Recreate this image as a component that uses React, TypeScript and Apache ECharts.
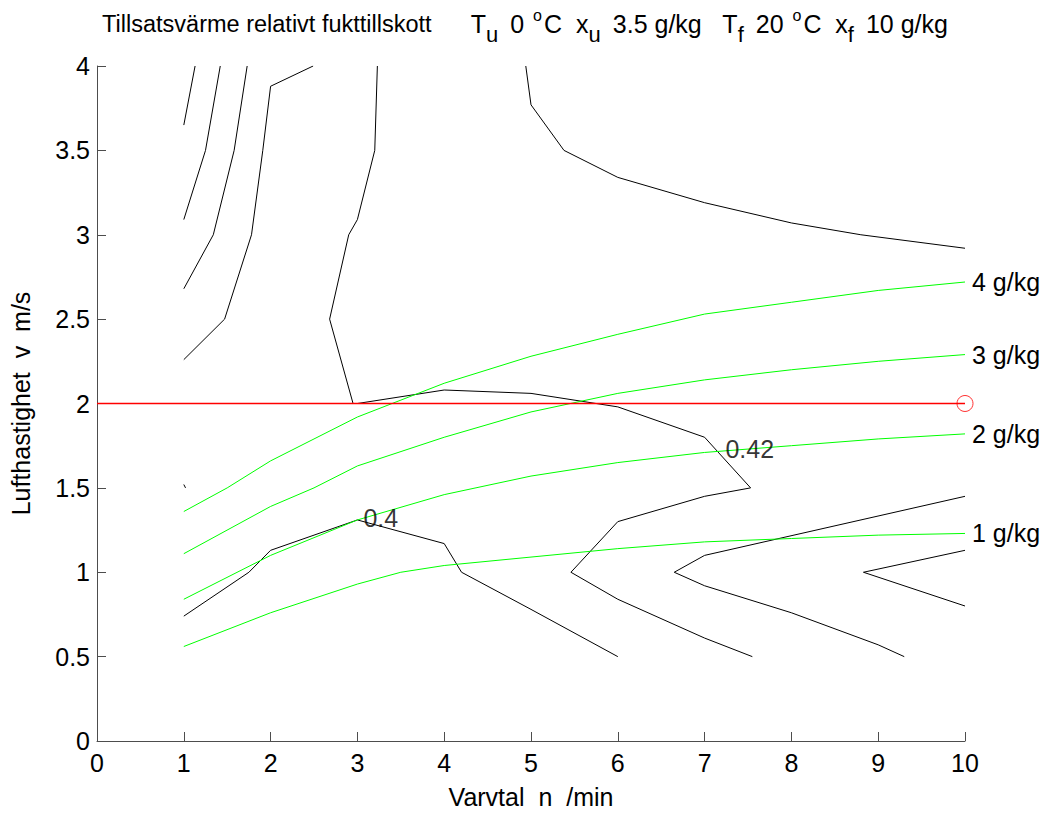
import React, { useEffect, useRef } from "react";
import * as echarts from "echarts";

// ---- data ----
const xTicks = [0, 1, 2, 3, 4, 5, 6, 7, 8, 9, 10];
const yTicks = [0, 0.5, 1, 1.5, 2, 2.5, 3, 3.5, 4];

// black contour lines (n, v)
const contourA = [[1, 3.65], [1.13, 4]];
const contourB = [[1, 3.09], [1.25, 3.5], [1.42, 4]];
const contourC = [[1, 2.68], [1.34, 3.0], [1.58, 3.5], [1.73, 4]];
const contourD = [[1, 2.26], [1.47, 2.5], [1.78, 3.0], [1.91, 3.5], [2, 3.88], [2.49, 4]];
const contourE = [
  [3.23, 4], [3.2, 3.5], [3, 3.09], [2.9, 3.0], [2.68, 2.5], [2.95, 2.0], [3, 2.0],
  [4, 2.08], [5, 2.06], [6, 1.98], [7, 1.8], [7.53, 1.5], [7, 1.45], [6, 1.3],
  [5.46, 1.0], [6, 0.84], [7, 0.61], [7.55, 0.5],
];
const contourF = [[10, 1.45], [7, 1.1], [6.65, 1.0], [7, 0.92], [8, 0.76], [9, 0.57], [9.3, 0.5]];
const contourG = [[10, 1.13], [8.83, 1.0], [10, 0.8]];
const contourH = [[1, 0.74], [1.75, 1.0], [2, 1.13], [3, 1.31], [4, 1.17], [4.2, 1.0], [5, 0.78], [6, 0.5]];
const contourI = [[4.94, 4], [5, 3.77], [5.38, 3.5], [6, 3.34], [7, 3.19], [8, 3.07], [8.8, 3.0], [10, 2.92]];
const contourDot = [[1, 1.52], [1.02, 1.5]];
const contours = [contourA, contourB, contourC, contourD, contourE, contourF, contourG, contourH, contourI, contourDot];

// contour labels
const contourLabels = [[3.27, 1.32, "0.4"], [7.52, 1.73, "0.42"]];

// green moisture lines (g/kg)
const moisture4 = [[1, 1.36], [1.5, 1.5], [2, 1.66], [3, 1.92], [4, 2.12], [5, 2.28], [6, 2.41], [7, 2.53], [8, 2.6], [9, 2.67], [10, 2.72]];
const moisture3 = [[1, 1.11], [2, 1.39], [2.5, 1.5], [3, 1.63], [4, 1.8], [5, 1.95], [6, 2.06], [7, 2.14], [8, 2.2], [9, 2.25], [10, 2.29]];
const moisture2 = [[1, 0.84], [2, 1.1], [3, 1.31], [4, 1.46], [5, 1.57], [6, 1.65], [7, 1.71], [8, 1.75], [9, 1.79], [10, 1.82]];
const moisture1 = [[1, 0.56], [2, 0.76], [3, 0.93], [3.5, 1.0], [4, 1.04], [5, 1.09], [6, 1.14], [7, 1.18], [8, 1.2], [9, 1.22], [10, 1.23]];
const moistureLines = [moisture1, moisture2, moisture3, moisture4];
const moistureNames = ["1 g/kg", "2 g/kg", "3 g/kg", "4 g/kg"];

// operating point (line from n = 0 to the point)
const operatingLine = [[0, 2], [10, 2]];
const operatingPoint = [[10, 2]];

const FONT = "'Liberation Sans', Arial, Helvetica, sans-serif";

export default function App() {
  const ref = useRef<HTMLDivElement>(null);
  useEffect(() => {
    document.body.style.margin = "0";
    document.body.style.overflow = "hidden";
    document.documentElement.style.overflow = "hidden";
    const chart = echarts.init(ref.current!, null, { renderer: "svg" });
    const series: any[] = [];
    contours.forEach((c, i) => {
      series.push({
        type: "line",
        name: "c" + i,
        data: c,
        symbol: "none",
        color: "#000",
        lineStyle: { color: "#000", width: 1 },
        silent: true,
        z: 2,
      });
    });
    moistureLines.forEach((m, i) => {
      series.push({
        type: "line",
        name: moistureNames[i],
        data: m,
        symbol: "none",
        color: "#00ff00",
        lineStyle: { color: "#00ff00", width: 1 },
        silent: true,
        z: 3,
        endLabel: {
          show: true,
          formatter: moistureNames[i],
          distance: 7,
          fontSize: 25,
          color: "#000",
          fontFamily: FONT,
        },
      });
    });
    series.push({
      type: "line",
      name: "op-line",
      data: operatingLine,
      symbol: "none",
      color: "#ff0000",
      lineStyle: { color: "#ff0000", width: 1.3 },
      silent: true,
      z: 10,
    });
    series.push({
      type: "scatter",
      name: "op",
      data: operatingPoint,
      symbol: "circle",
      symbolSize: 16,
      itemStyle: { color: "none", borderColor: "#ff0000", borderWidth: 1 },
      silent: true,
      z: 10,
    });
    series.push({
      type: "scatter",
      data: contourLabels,
      symbolSize: 0,
      label: {
        show: true,
        position: "inside",
        formatter: (p: any) => p.value[2],
        fontSize: 25,
        color: "#000",
        fontFamily: FONT,
      },
      silent: true,
      z: 6,
    });

    const sub = { fontSize: 22, lineHeight: 22, fontWeight: "normal", padding: [20, 5, 0, 0], color: "#000", fontFamily: FONT };
    const sup = { fontSize: 16, lineHeight: 16, fontWeight: "normal", padding: [0, 2, 18, 2], color: "#000", fontFamily: FONT };
    const a = { fontSize: 23.5, lineHeight: 28, fontWeight: "normal", color: "#000", fontFamily: FONT };
    const n = { fontSize: 25, lineHeight: 28, fontWeight: "normal", color: "#000", fontFamily: FONT };

    chart.setOption({
      animation: false,
      textStyle: { fontFamily: FONT },
      title: {
        text:
          "{a|Tillsatsvärme relativt fukttillskott      }{n|T}{sub|u}{n| 0 }{sup|o}{n|C  x}{sub|u}{n| 3.5 g/kg   T}{sub|f}{n| 20 }{sup|o}{n|C  x}{sub|f}{n| 10 g/kg}",
        left: "center",
        top: 5,
        textStyle: { rich: { a, n, sub, sup }, fontSize: 24, fontWeight: "normal", color: "#000" },
      },
      grid: { left: 97, top: 66, right: 85, bottom: 68, containLabel: false },
      xAxis: {
        type: "value",
        min: xTicks[0],
        max: xTicks[xTicks.length - 1],
        interval: 1,
        name: "Varvtal  n  /min",
        nameLocation: "middle",
        nameGap: 43,
        nameTextStyle: { fontSize: 25, color: "#000", fontFamily: FONT },
        axisLine: { show: true, onZero: false, lineStyle: { color: "#4d4d4d", width: 1 } },
        axisTick: { show: true, inside: true, length: 9, lineStyle: { color: "#4d4d4d" } },
        axisLabel: { fontSize: 25, color: "#000", margin: 9, fontFamily: FONT },
        splitLine: { show: false },
      },
      yAxis: {
        type: "value",
        min: yTicks[0],
        max: yTicks[yTicks.length - 1],
        interval: 0.5,
        name: "Lufthastighet  v  m/s",
        nameLocation: "middle",
        nameGap: 64,
        nameTextStyle: { fontSize: 25, color: "#000", fontFamily: FONT },
        axisLine: { show: true, onZero: false, lineStyle: { color: "#4d4d4d", width: 1 } },
        axisTick: { show: true, inside: true, length: 9, lineStyle: { color: "#4d4d4d" } },
        axisLabel: { fontSize: 25, color: "#000", margin: 7, fontFamily: FONT },
        splitLine: { show: false },
      },
      series,
    });
    return () => chart.dispose();
  }, []);
  return (
    <div
      ref={ref}
      style={{ position: "relative", width: 1050, height: 814, overflow: "hidden", background: "#fff" }}
    />
  );
}
